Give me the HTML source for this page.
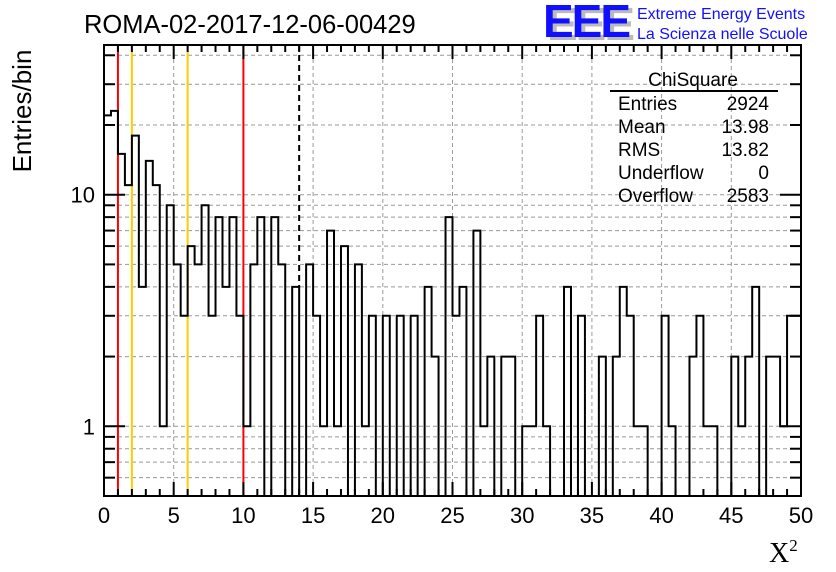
<!DOCTYPE html>
<html><head><meta charset="utf-8"><style>
html,body{margin:0;padding:0;background:#fff;}
svg{display:block;font-family:"Liberation Sans",sans-serif;}
</style></head><body>
<svg id="c" width="836" height="572" viewBox="0 0 836 572">
<text x="84" y="33" font-size="25.5">ROMA-02-2017-12-06-00429</text>
<g>
<text x="547" y="40" font-size="46" font-weight="bold" fill="#bbb" letter-spacing="-2">EEE</text>
<text x="543" y="37" font-size="46" font-weight="bold" fill="#1010ff" letter-spacing="-2">EEE</text>
<text x="637" y="19" font-size="16" fill="#1010ff">Extreme Energy Events</text>
<text x="637" y="39" font-size="16" fill="#1010ff">La Scienza nelle Scuole</text>
</g>
<text transform="translate(31,111) rotate(-90)" text-anchor="middle" font-size="26">Entries/bin</text>
<text x="769" y="562" font-family="Liberation Serif,serif" font-size="28">X<tspan font-size="17" dy="-11">2</tspan></text>
<g id="grid"></g><g id="marks"></g><g id="axes"></g>
<g font-size="19">
<text x="693" y="86" text-anchor="middle">ChiSquare</text>
<line x1="610" y1="91" x2="778" y2="91" stroke="#000" stroke-width="2"/>
<text x="618" y="110">Entries</text><text x="769" y="110" text-anchor="end">2924</text>
<text x="618" y="133">Mean</text><text x="769" y="133" text-anchor="end">13.98</text>
<text x="618" y="156">RMS</text><text x="769" y="156" text-anchor="end">13.82</text>
<text x="618" y="179">Underflow</text><text x="769" y="179" text-anchor="end">0</text>
<text x="618" y="202">Overflow</text><text x="769" y="202" text-anchor="end">2583</text>
</g>
</svg>
<script>
const counts=[22,23,15,11,18,4,14,11,1,9,5,3,6,5,9,3,8,4,8,3,1,5,8,0,8,5,0,4,0,5,3,1,7,1,6,0,5,1,3,0,3,0,3,0,3,0,4,2,0,8,3,4,0,7,1,2,0,2,2,0,1,1,3,1,0,0,4,0,3,0,0,2,0,2,4,3,1,1,0,0,3,1,0,0,2,3,1,1,0,0,2,1,2,4,0,2,2,1,3,3];
const xTicks=[0,5,10,15,20,25,30,35,40,45,50];
const yTicks=[1,10];
const redLines=[1,10];
const yellowLines=[2,6];
const dashedLines=[14];
const binWidth=0.5;
const L=104,R=801,T=45,B=496,xmin=0,xmax=50,ymin=0.5,ymax=44.3;
const NS='http://www.w3.org/2000/svg';
function X(v){return L+(v-xmin)/(xmax-xmin)*(R-L);}
function Y(v){return B-(Math.log10(v)-Math.log10(ymin))/(Math.log10(ymax)-Math.log10(ymin))*(B-T);}
function mk(tag,attrs,parent){const e=document.createElementNS(NS,tag);for(const k in attrs)e.setAttribute(k,attrs[k]);parent.appendChild(e);return e;}
const grid=document.getElementById('grid'),marks=document.getElementById('marks'),axes=document.getElementById('axes');
const minorY=[];for(let d=0.1;d<=10;d*=10)for(let m=1;m<=9;m++){const v=m*d;if(v>=ymin&&v<=ymax)minorY.push(v);}
minorY.forEach(v=>{const l=mk('line',{x1:L,x2:R,y1:Y(v),y2:Y(v),stroke:'#999','stroke-dasharray':'4,3','stroke-width':1},grid);

});
xTicks.forEach(v=>{const l=mk('line',{x1:X(v),x2:X(v),y1:T,y2:B,stroke:'#999','stroke-dasharray':'4,3','stroke-width':1},grid);

});
redLines.forEach(v=>{const l=mk('line',{x1:X(v),x2:X(v),y1:T,y2:B,stroke:'#f00','stroke-width':2},marks);

});
yellowLines.forEach(v=>{const l=mk('line',{x1:X(v),x2:X(v),y1:T,y2:B,stroke:'#fc0','stroke-width':2},marks);

});
let d='';counts.forEach((c,i)=>{const x0=X(i*binWidth),x1=X((i+1)*binWidth),y=c>0?Y(c):B;d+=(i==0?'M'+x0+','+y:'V'+y)+'H'+x1;});
const h=mk('path',{d:d,fill:'none',stroke:'#000','stroke-width':2},marks);


dashedLines.forEach(v=>{const l=mk('line',{x1:X(v),x2:X(v),y1:T,y2:Y(4),stroke:'#000','stroke-width':2,'stroke-dasharray':'6,4'},marks);

});
const f=mk('rect',{x:L,y:T,width:R-L,height:B-T,fill:'none',stroke:'#000','stroke-width':2},axes);


for(let v=xmin;v<=xmax;v+=1){const len=v%5==0?14:7;
mk('line',{x1:X(v),x2:X(v),y1:B,y2:B-len,stroke:'#000','stroke-width':2},axes);
mk('line',{x1:X(v),x2:X(v),y1:T,y2:T+len,stroke:'#000','stroke-width':2},axes);}
xTicks.forEach(v=>{const t=mk('text',{x:X(v),y:523,'text-anchor':'middle','font-size':22},axes);t.textContent=v;

});
minorY.forEach(v=>{const len=yTicks.includes(v)?21:11;
mk('line',{x1:L,x2:L+len,y1:Y(v),y2:Y(v),stroke:'#000','stroke-width':2},axes);
mk('line',{x1:R,x2:R-len,y1:Y(v),y2:Y(v),stroke:'#000','stroke-width':2},axes);});
yTicks.forEach(v=>{const t=mk('text',{x:95,y:Y(v)+8,'text-anchor':'end','font-size':22},axes);t.textContent=v;

});
</script>
</body></html>
